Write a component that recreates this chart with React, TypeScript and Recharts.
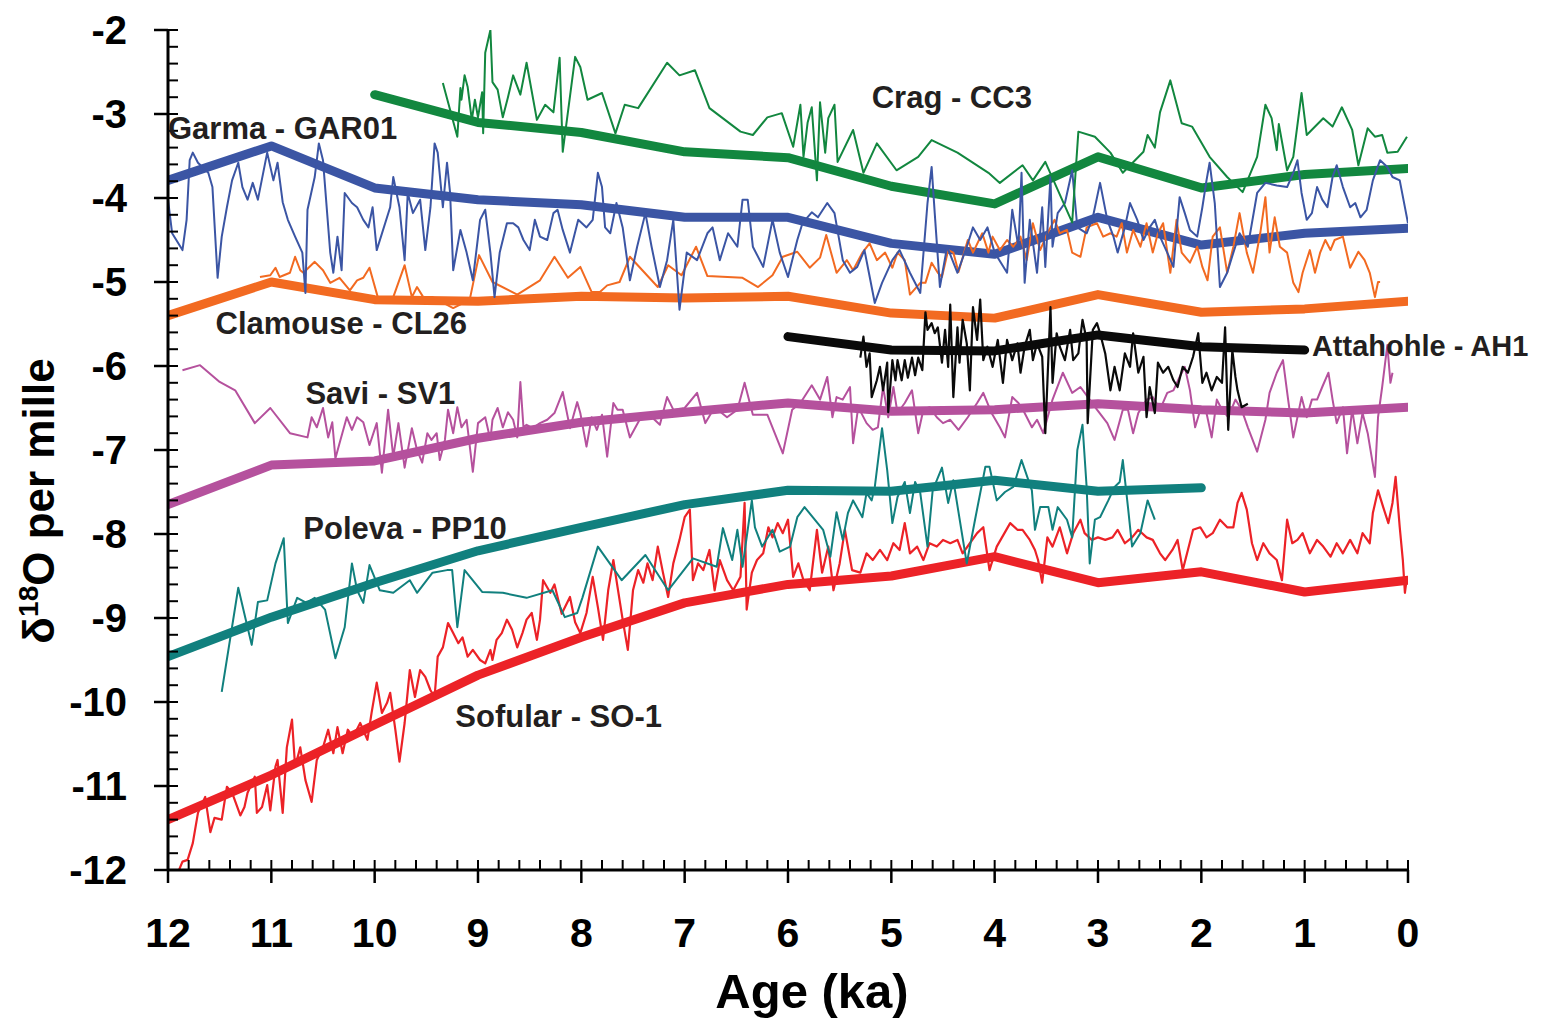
import React from 'react';
import { LineChart, Line, XAxis, YAxis, ReferenceDot } from 'recharts';

// [age ka, d18O]
const cragTrend = [[10, -2.77], [9, -3.1], [8, -3.22], [7, -3.45], [6, -3.52], [5, -3.86], [4, -4.07], [3, -3.51], [2, -3.88], [1, -3.72], [0, -3.65]];
const garmaTrend = [[12, -3.79], [11, -3.38], [10, -3.88], [9, -4.02], [8, -4.08], [7, -4.23], [6, -4.23], [5, -4.54], [4, -4.67], [3, -4.23], [2, -4.56], [1, -4.42], [0, -4.36]];
const clamouseTrend = [[12, -5.4], [11, -5.0], [10, -5.21], [9, -5.23], [8, -5.17], [7, -5.19], [6, -5.17], [5, -5.37], [4, -5.43], [3, -5.15], [2, -5.36], [1, -5.32], [0, -5.23]];
const attaTrend = [[6, -5.65], [5, -5.81], [4, -5.82], [3, -5.63], [2, -5.77], [1, -5.81]];
const saviTrend = [[12, -7.65], [11, -7.18], [10, -7.13], [9, -6.86], [8, -6.67], [7, -6.55], [6, -6.44], [5, -6.54], [4, -6.52], [3, -6.45], [2, -6.52], [1, -6.56], [0, -6.49]];
const polevaTrend = [[12, -9.46], [11, -8.99], [10, -8.58], [9, -8.2], [8, -7.92], [7, -7.65], [6, -7.48], [5, -7.49], [4, -7.36], [3, -7.49], [2, -7.45]];
const sofularTrend = [[12, -11.4], [11, -10.87], [10, -10.27], [9, -9.68], [8, -9.23], [7, -8.82], [6, -8.6], [5, -8.5], [4, -8.27], [3, -8.58], [2, -8.45], [1, -8.69], [0, -8.55]];

const crag = [[9.34, -2.63], [9.2, -3.27], [9.17, -2.69], [9.16, -2.83], [9.13, -2.54], [9.1, -2.68], [9.06, -3.07], [9.03, -2.83], [9.0, -3.04], [8.96, -2.74], [8.95, -3.23], [8.93, -2.27], [8.88, -2.0], [8.86, -2.62], [8.81, -2.71], [8.76, -3.04], [8.71, -2.8], [8.66, -2.54], [8.59, -2.77], [8.53, -2.39], [8.43, -3.07], [8.35, -2.89], [8.27, -2.98], [8.21, -2.33], [8.18, -3.45], [8.06, -2.32], [8.01, -2.44], [7.94, -2.83], [7.8, -2.75], [7.67, -3.23], [7.58, -2.89], [7.45, -2.93], [7.17, -2.39], [7.05, -2.54], [6.9, -2.48], [6.76, -2.93], [6.46, -3.21], [6.34, -3.25], [6.2, -3.04], [6.06, -2.99], [5.95, -3.39], [5.88, -2.89], [5.85, -3.51], [5.81, -3.1], [5.77, -2.92], [5.72, -3.79], [5.69, -2.86], [5.64, -3.46], [5.61, -3.05], [5.55, -2.89], [5.52, -3.57], [5.37, -3.19], [5.27, -3.7], [5.14, -3.35], [4.95, -3.67], [4.74, -3.51], [4.61, -3.31], [4.36, -3.46], [4.06, -3.7], [3.95, -3.82], [3.73, -3.61], [3.63, -3.79], [3.51, -3.57], [3.25, -4.29], [3.19, -3.21], [3.03, -3.27], [2.88, -3.46], [2.76, -3.7], [2.56, -3.45], [2.52, -3.25], [2.45, -3.4], [2.4, -2.98], [2.3, -2.6], [2.19, -3.11], [2.09, -3.15], [1.92, -3.51], [1.75, -3.75], [1.6, -3.93], [1.46, -3.51], [1.38, -2.89], [1.32, -3.05], [1.27, -3.43], [1.25, -3.12], [1.17, -3.67], [1.11, -3.51], [1.03, -2.75], [0.98, -3.25], [0.82, -3.05], [0.73, -3.15], [0.64, -2.92], [0.54, -3.19], [0.48, -3.61], [0.39, -3.17], [0.32, -3.27], [0.25, -3.25], [0.2, -3.46], [0.1, -3.45], [0.01, -3.27]];

const garma = [[12.0, -4.02], [11.96, -4.42], [11.86, -4.62], [11.82, -4.26], [11.79, -3.55], [11.76, -3.46], [11.71, -3.58], [11.61, -3.7], [11.57, -3.87], [11.52, -4.95], [11.48, -4.46], [11.43, -4.11], [11.38, -3.79], [11.32, -3.58], [11.28, -3.87], [11.23, -4.02], [11.18, -3.82], [11.13, -4.02], [11.04, -3.46], [10.98, -3.79], [10.94, -3.58], [10.89, -4.05], [10.84, -4.26], [10.77, -4.46], [10.7, -4.65], [10.67, -5.13], [10.65, -4.14], [10.58, -3.75], [10.54, -3.35], [10.5, -3.55], [10.43, -4.65], [10.4, -4.89], [10.36, -4.46], [10.32, -4.86], [10.29, -3.94], [10.22, -4.06], [10.17, -4.11], [10.11, -4.26], [10.06, -4.35], [10.02, -4.11], [9.98, -4.62], [9.85, -4.11], [9.82, -3.75], [9.76, -4.11], [9.71, -4.74], [9.68, -3.94], [9.63, -4.18], [9.56, -4.02], [9.51, -4.62], [9.46, -4.11], [9.42, -3.35], [9.39, -3.46], [9.34, -4.11], [9.3, -3.58], [9.27, -3.94], [9.24, -4.86], [9.17, -4.38], [9.11, -4.65], [9.05, -4.98], [8.98, -4.26], [8.93, -4.14], [8.88, -4.65], [8.84, -5.18], [8.79, -4.65], [8.72, -4.3], [8.66, -4.3], [8.61, -4.35], [8.56, -4.5], [8.5, -4.62], [8.45, -4.26], [8.4, -4.46], [8.33, -4.5], [8.27, -4.18], [8.23, -4.14], [8.18, -4.38], [8.11, -4.65], [8.03, -4.26], [7.95, -4.35], [7.89, -4.26], [7.84, -3.7], [7.8, -3.87], [7.77, -4.35], [7.72, -4.42], [7.66, -4.06], [7.6, -4.35], [7.53, -4.98], [7.46, -4.58], [7.38, -4.18], [7.32, -4.58], [7.24, -5.06], [7.17, -4.74], [7.11, -4.26], [7.05, -5.33], [6.98, -4.65], [6.88, -4.74], [6.78, -4.42], [6.73, -4.35], [6.66, -4.74], [6.58, -4.42], [6.49, -4.58], [6.44, -4.02], [6.39, -4.02], [6.34, -4.58], [6.24, -4.82], [6.15, -4.26], [6.08, -4.65], [6.0, -4.94], [5.91, -4.5], [5.86, -4.3], [5.77, -4.17], [5.71, -4.23], [5.62, -4.06], [5.55, -4.18], [5.47, -4.74], [5.4, -4.89], [5.33, -4.82], [5.26, -4.62], [5.16, -5.25], [5.09, -5.01], [4.99, -4.74], [4.92, -4.62], [4.82, -4.89], [4.72, -5.13], [4.65, -4.06], [4.61, -3.63], [4.58, -4.18], [4.53, -5.06], [4.46, -4.58], [4.36, -4.89], [4.27, -4.58], [4.21, -4.35], [4.14, -4.5], [4.07, -4.35], [4.0, -4.65], [3.88, -4.89], [3.83, -4.14], [3.77, -4.58], [3.74, -3.7], [3.71, -5.01], [3.66, -4.26], [3.59, -4.89], [3.54, -4.11], [3.51, -4.82], [3.46, -3.75], [3.44, -4.58], [3.39, -4.18], [3.32, -4.06], [3.25, -3.67], [3.2, -4.35], [3.11, -4.42], [3.05, -4.23], [2.98, -3.82], [2.91, -4.26], [2.85, -4.46], [2.81, -4.65], [2.74, -4.35], [2.69, -4.06], [2.62, -4.26], [2.56, -4.5], [2.5, -4.35], [2.45, -4.26], [2.4, -4.46], [2.33, -4.65], [2.27, -4.82], [2.21, -3.99], [2.16, -4.18], [2.11, -4.38], [2.04, -4.46], [1.99, -4.11], [1.95, -3.79], [1.92, -3.58], [1.87, -4.06], [1.82, -5.06], [1.75, -4.89], [1.69, -4.65], [1.63, -4.42], [1.55, -4.58], [1.46, -3.94], [1.38, -3.82], [1.27, -3.85], [1.17, -3.87], [1.11, -3.7], [1.07, -3.55], [1.03, -3.94], [0.98, -4.26], [0.93, -4.18], [0.88, -3.87], [0.83, -4.02], [0.78, -4.11], [0.73, -3.75], [0.69, -3.61], [0.63, -3.87], [0.56, -4.11], [0.51, -4.06], [0.46, -4.23], [0.4, -4.14], [0.34, -3.79], [0.27, -3.55], [0.2, -3.63], [0.15, -3.75], [0.08, -3.79], [0.0, -4.3]];

const clamouse = [[11.11, -4.94], [11.01, -4.92], [10.96, -4.83], [10.92, -4.94], [10.82, -4.89], [10.77, -4.7], [10.72, -4.86], [10.69, -4.89], [10.58, -4.76], [10.5, -4.86], [10.43, -5.01], [10.34, -4.95], [10.24, -5.1], [10.17, -4.98], [10.11, -4.95], [10.05, -4.83], [9.97, -5.18], [9.82, -5.18], [9.71, -4.8], [9.64, -5.18], [9.59, -5.06], [9.53, -5.18], [9.44, -5.18], [9.24, -5.31], [9.08, -5.21], [8.99, -4.68], [8.86, -5.0], [8.62, -5.15], [8.4, -4.98], [8.26, -4.7], [8.13, -4.95], [8.01, -4.82], [7.9, -5.12], [7.82, -5.12], [7.75, -5.04], [7.63, -5.0], [7.53, -4.7], [7.26, -5.06], [7.16, -4.8], [7.03, -4.92], [6.89, -4.58], [6.78, -4.93], [6.44, -4.95], [6.29, -5.06], [6.15, -4.92], [6.05, -4.7], [5.91, -4.64], [5.79, -4.83], [5.69, -4.71], [5.63, -4.44], [5.53, -4.89], [5.43, -4.74], [5.37, -4.86], [5.28, -4.65], [5.21, -4.54], [5.14, -4.74], [5.06, -4.65], [4.99, -4.83], [4.94, -4.65], [4.87, -4.74], [4.82, -5.15], [4.72, -5.01], [4.67, -5.01], [4.61, -4.77], [4.55, -4.89], [4.51, -4.94], [4.45, -4.62], [4.4, -4.65], [4.35, -4.88], [4.26, -4.5], [4.21, -4.65], [4.12, -4.42], [4.06, -4.65], [4.02, -4.46], [3.95, -4.62], [3.88, -4.5], [3.82, -4.58], [3.75, -4.46], [3.69, -4.74], [3.63, -4.3], [3.56, -4.62], [3.49, -4.42], [3.42, -4.26], [3.37, -4.42], [3.3, -4.38], [3.25, -4.65], [3.17, -4.7], [3.11, -4.35], [3.01, -4.3], [2.95, -4.46], [2.88, -4.42], [2.82, -4.46], [2.77, -4.3], [2.72, -4.65], [2.66, -4.38], [2.59, -4.58], [2.53, -4.3], [2.47, -4.65], [2.42, -4.42], [2.37, -4.3], [2.3, -4.89], [2.24, -4.26], [2.19, -4.65], [2.11, -4.77], [2.04, -4.58], [1.99, -4.82], [1.94, -4.98], [1.89, -4.46], [1.82, -4.35], [1.75, -4.89], [1.69, -4.58], [1.63, -4.18], [1.56, -4.65], [1.5, -4.89], [1.43, -4.42], [1.38, -3.99], [1.34, -4.65], [1.29, -4.23], [1.24, -4.58], [1.17, -4.65], [1.11, -5.01], [1.06, -5.12], [1.02, -4.89], [0.95, -4.62], [0.9, -4.89], [0.85, -4.65], [0.8, -4.5], [0.75, -4.62], [0.71, -4.5], [0.63, -4.46], [0.56, -4.83], [0.48, -4.64], [0.42, -4.74], [0.37, -4.89], [0.32, -5.18], [0.29, -5.0], [0.27, -5.0]];

const attahohle = [[5.3, -5.9], [5.27, -5.65], [5.24, -6.01], [5.21, -5.85], [5.19, -6.37], [5.14, -6.17], [5.11, -6.01], [5.08, -6.29], [5.04, -5.96], [5.03, -6.55], [4.99, -5.93], [4.96, -6.17], [4.94, -5.93], [4.9, -6.17], [4.87, -5.93], [4.84, -6.14], [4.8, -5.9], [4.77, -6.11], [4.74, -5.9], [4.7, -6.05], [4.67, -5.36], [4.65, -5.57], [4.61, -5.49], [4.58, -5.61], [4.55, -5.54], [4.51, -5.96], [4.48, -5.57], [4.45, -6.01], [4.43, -5.27], [4.4, -6.37], [4.36, -5.54], [4.34, -5.96], [4.31, -5.45], [4.27, -5.73], [4.24, -6.29], [4.21, -5.3], [4.17, -5.69], [4.14, -5.21], [4.11, -5.93], [4.07, -5.77], [4.02, -6.01], [3.97, -5.69], [3.92, -6.2], [3.88, -5.69], [3.83, -5.93], [3.78, -5.73], [3.75, -6.08], [3.71, -5.77], [3.66, -5.57], [3.63, -5.93], [3.59, -5.73], [3.54, -5.89], [3.51, -6.8], [3.46, -5.3], [3.44, -6.2], [3.4, -5.61], [3.37, -5.77], [3.32, -5.93], [3.27, -5.57], [3.24, -5.93], [3.19, -5.85], [3.15, -5.45], [3.11, -5.69], [3.1, -6.68], [3.05, -5.57], [3.01, -5.49], [2.98, -5.61], [2.93, -5.85], [2.88, -6.29], [2.84, -6.01], [2.79, -6.29], [2.74, -5.85], [2.69, -6.01], [2.66, -5.61], [2.61, -6.08], [2.56, -5.89], [2.53, -6.61], [2.5, -6.25], [2.45, -6.56], [2.42, -5.96], [2.37, -6.08], [2.32, -6.01], [2.27, -6.17], [2.23, -6.25], [2.18, -6.01], [2.13, -6.08], [2.08, -5.89], [2.03, -5.61], [1.99, -6.2], [1.95, -6.08], [1.9, -6.29], [1.85, -6.13], [1.8, -6.2], [1.77, -5.54], [1.74, -6.76], [1.7, -5.81], [1.67, -6.13], [1.65, -6.29], [1.61, -6.49], [1.55, -6.45]];

const savi = [[11.86, -6.05], [11.69, -5.99], [11.5, -6.19], [11.35, -6.29], [11.16, -6.68], [11.01, -6.5], [10.82, -6.8], [10.65, -6.85], [10.61, -6.61], [10.56, -6.73], [10.5, -6.5], [10.45, -6.85], [10.41, -6.67], [10.38, -7.1], [10.34, -6.92], [10.27, -6.61], [10.22, -6.76], [10.17, -6.61], [10.11, -6.67], [10.05, -6.94], [9.98, -6.68], [9.93, -7.27], [9.87, -6.52], [9.82, -7.08], [9.77, -6.68], [9.71, -7.21], [9.64, -6.74], [9.59, -7.0], [9.54, -7.15], [9.49, -6.8], [9.45, -6.88], [9.4, -6.8], [9.37, -7.12], [9.32, -6.88], [9.29, -6.52], [9.24, -6.8], [9.2, -6.49], [9.16, -6.73], [9.11, -6.64], [9.05, -7.26], [9.0, -6.68], [8.93, -6.61], [8.88, -6.88], [8.86, -6.64], [8.81, -6.5], [8.76, -6.73], [8.71, -6.55], [8.66, -6.64], [8.62, -6.85], [8.59, -6.19], [8.56, -6.73], [8.53, -6.7], [8.47, -6.74], [8.4, -6.68], [8.33, -6.64], [8.26, -6.56], [8.18, -6.31], [8.11, -6.74], [8.04, -6.43], [8.01, -6.56], [7.95, -6.96], [7.9, -6.61], [7.85, -6.76], [7.8, -6.58], [7.75, -7.08], [7.69, -6.44], [7.65, -6.52], [7.6, -6.52], [7.53, -6.85], [7.41, -6.58], [7.36, -6.56], [7.24, -6.7], [7.17, -6.37], [7.11, -6.52], [7.0, -6.5], [6.88, -6.32], [6.8, -6.68], [6.71, -6.49], [6.59, -6.61], [6.49, -6.52], [6.42, -6.2], [6.34, -6.58], [6.2, -6.58], [6.05, -7.04], [5.96, -6.52], [5.88, -6.44], [5.77, -6.23], [5.69, -6.4], [5.62, -6.13], [5.57, -6.61], [5.53, -6.37], [5.47, -6.4], [5.4, -6.25], [5.37, -6.92], [5.32, -6.49], [5.24, -6.68], [5.18, -6.76], [5.13, -6.73], [5.08, -6.25], [5.03, -6.61], [4.98, -6.25], [4.94, -6.56], [4.87, -6.44], [4.8, -6.29], [4.74, -6.8], [4.69, -6.52], [4.63, -6.49], [4.56, -6.61], [4.5, -6.68], [4.43, -6.64], [4.35, -6.76], [4.26, -6.61], [4.17, -6.44], [4.11, -6.32], [4.03, -6.56], [3.95, -6.73], [3.9, -6.85], [3.83, -6.37], [3.77, -6.44], [3.71, -6.56], [3.64, -6.73], [3.59, -6.64], [3.53, -6.8], [3.44, -6.4], [3.34, -6.08], [3.25, -6.32], [3.17, -6.25], [3.08, -6.4], [3.01, -6.52], [2.91, -6.68], [2.84, -6.88], [2.76, -6.52], [2.71, -6.52], [2.66, -6.8], [2.61, -6.56], [2.53, -6.4], [2.47, -6.37], [2.4, -6.52], [2.33, -6.32], [2.27, -6.29], [2.21, -6.13], [2.16, -6.01], [2.11, -6.29], [2.06, -6.73], [2.01, -6.52], [1.95, -6.56], [1.9, -6.85], [1.85, -6.4], [1.8, -6.52], [1.74, -6.61], [1.67, -6.4], [1.61, -6.52], [1.55, -6.73], [1.46, -7.02], [1.38, -6.64], [1.34, -6.32], [1.27, -6.08], [1.21, -5.93], [1.16, -6.4], [1.11, -6.85], [1.03, -6.37], [0.98, -6.61], [0.93, -6.4], [0.88, -6.4], [0.83, -6.25], [0.77, -6.08], [0.73, -6.4], [0.69, -6.68], [0.63, -6.49], [0.59, -7.04], [0.54, -6.52], [0.49, -6.92], [0.44, -6.56], [0.39, -6.8], [0.32, -7.32], [0.29, -6.61], [0.25, -6.25], [0.2, -5.75], [0.17, -6.2], [0.15, -6.08]];

const poleva = [[11.48, -9.88], [11.32, -8.64], [11.24, -9.06], [11.19, -9.32], [11.13, -8.81], [11.04, -8.79], [10.96, -8.35], [10.88, -8.05], [10.84, -9.06], [10.75, -8.76], [10.66, -8.82], [10.58, -8.76], [10.48, -8.9], [10.38, -9.48], [10.29, -9.11], [10.22, -8.35], [10.17, -8.67], [10.11, -8.82], [10.05, -8.37], [9.95, -8.67], [9.82, -8.7], [9.66, -8.55], [9.59, -8.7], [9.44, -8.46], [9.3, -8.43], [9.25, -8.43], [9.2, -9.11], [9.13, -8.43], [8.96, -8.69], [8.76, -8.7], [8.53, -8.76], [8.28, -8.67], [8.16, -8.99], [8.04, -8.94], [7.99, -8.76], [7.84, -8.15], [7.61, -8.55], [7.38, -8.25], [7.16, -8.67], [6.92, -8.29], [6.69, -8.39], [6.63, -7.93], [6.54, -8.31], [6.49, -7.95], [6.44, -8.39], [6.35, -7.6], [6.32, -7.92], [6.25, -8.15], [6.15, -7.95], [6.08, -8.21], [5.98, -8.15], [5.91, -7.8], [5.84, -7.68], [5.66, -7.95], [5.59, -8.27], [5.53, -7.74], [5.47, -8.07], [5.42, -7.75], [5.37, -7.6], [5.28, -7.8], [5.24, -7.51], [5.19, -7.6], [5.16, -7.44], [5.09, -6.74], [5.04, -7.24], [4.99, -7.87], [4.94, -7.56], [4.87, -7.38], [4.82, -7.75], [4.77, -7.38], [4.72, -7.51], [4.65, -8.15], [4.6, -7.48], [4.51, -7.21], [4.45, -7.63], [4.4, -7.36], [4.27, -8.35], [4.19, -7.83], [4.09, -7.2], [4.05, -7.2], [3.98, -7.6], [3.9, -7.5], [3.82, -7.44], [3.74, -7.12], [3.64, -7.48], [3.61, -7.95], [3.56, -7.68], [3.48, -7.68], [3.44, -7.95], [3.39, -7.68], [3.3, -7.83], [3.25, -8.04], [3.2, -7.0], [3.15, -6.7], [3.11, -7.44], [3.08, -8.35], [3.03, -7.83], [2.98, -7.8], [2.9, -7.6], [2.84, -7.44], [2.79, -7.38], [2.76, -7.12], [2.71, -7.68], [2.67, -8.15], [2.59, -7.99], [2.52, -7.6], [2.45, -7.83]];

const sofular = [[11.9, -12.02], [11.86, -11.9], [11.81, -11.88], [11.76, -11.68], [11.71, -11.32], [11.64, -11.13], [11.59, -11.55], [11.55, -11.38], [11.48, -11.4], [11.43, -11.01], [11.38, -11.08], [11.3, -11.35], [11.26, -11.25], [11.23, -11.08], [11.16, -10.89], [11.14, -11.32], [11.09, -11.25], [11.04, -10.99], [11.01, -11.29], [10.96, -10.77], [10.94, -10.69], [10.89, -11.32], [10.85, -10.54], [10.8, -10.21], [10.77, -10.77], [10.72, -10.54], [10.67, -10.93], [10.61, -11.19], [10.56, -10.69], [10.5, -10.54], [10.45, -10.33], [10.4, -10.61], [10.36, -10.3], [10.31, -10.61], [10.26, -10.33], [10.21, -10.42], [10.14, -10.25], [10.07, -10.45], [10.03, -10.13], [9.98, -9.77], [9.93, -10.13], [9.88, -10.01], [9.85, -9.89], [9.8, -10.33], [9.76, -10.71], [9.71, -10.25], [9.66, -9.62], [9.61, -9.94], [9.56, -9.62], [9.51, -9.7], [9.46, -9.86], [9.42, -9.94], [9.39, -9.46], [9.34, -9.35], [9.29, -9.06], [9.24, -9.18], [9.19, -9.3], [9.15, -9.23], [9.1, -9.46], [9.05, -9.38], [8.98, -9.5], [8.93, -9.54], [8.88, -9.38], [8.86, -9.5], [8.82, -9.26], [8.77, -9.18], [8.72, -9.02], [8.67, -9.14], [8.62, -9.35], [8.57, -9.18], [8.53, -9.02], [8.48, -8.94], [8.43, -9.26], [8.4, -9.02], [8.37, -8.55], [8.3, -8.7], [8.26, -8.6], [8.19, -8.95], [8.11, -8.75], [8.06, -9.05], [8.01, -9.18], [7.95, -8.94], [7.89, -8.51], [7.84, -8.87], [7.79, -9.26], [7.74, -8.67], [7.69, -8.31], [7.65, -8.63], [7.6, -9.02], [7.55, -9.38], [7.5, -8.67], [7.45, -8.43], [7.4, -8.58], [7.36, -8.35], [7.31, -8.55], [7.26, -8.15], [7.21, -8.46], [7.16, -8.75], [7.11, -8.35], [7.05, -8.07], [7.0, -7.8], [6.95, -7.71], [6.92, -8.55], [6.87, -8.35], [6.82, -8.43], [6.76, -8.19], [6.71, -8.67], [6.66, -8.31], [6.59, -8.55], [6.53, -8.67], [6.46, -8.51], [6.42, -7.63], [6.4, -8.9], [6.35, -8.46], [6.3, -8.31], [6.24, -8.23], [6.19, -7.92], [6.15, -8.04], [6.1, -7.87], [6.05, -7.99], [6.0, -7.83], [5.95, -8.51], [5.9, -8.35], [5.85, -8.55], [5.79, -8.67], [5.72, -7.95], [5.67, -8.46], [5.61, -8.15], [5.56, -8.67], [5.5, -8.35], [5.45, -7.95], [5.38, -8.43], [5.3, -8.46], [5.24, -8.23], [5.18, -8.31], [5.11, -8.19], [5.04, -8.31], [4.98, -8.11], [4.92, -8.19], [4.87, -7.87], [4.82, -8.23], [4.75, -8.15], [4.69, -8.31], [4.63, -8.11], [4.56, -8.15], [4.5, -8.07], [4.43, -8.11], [4.36, -8.07], [4.31, -8.23], [4.24, -8.11], [4.17, -7.99], [4.11, -7.92], [4.05, -8.43], [3.98, -8.15], [3.85, -7.87], [3.78, -7.95], [3.73, -7.95], [3.66, -8.07], [3.61, -8.19], [3.58, -8.31], [3.54, -8.58], [3.49, -8.04], [3.44, -8.15], [3.37, -7.92], [3.3, -8.23], [3.24, -7.99], [3.17, -7.83], [3.13, -7.99], [3.06, -8.07], [3.0, -8.04], [2.93, -8.07], [2.86, -8.04], [2.81, -7.95], [2.74, -8.11], [2.67, -8.04], [2.61, -7.95], [2.53, -8.04], [2.47, -8.07], [2.4, -8.23], [2.35, -8.31], [2.28, -8.19], [2.23, -8.07], [2.18, -8.43], [2.13, -8.19], [2.08, -7.95], [2.01, -7.92], [1.95, -8.04], [1.89, -7.99], [1.82, -7.83], [1.75, -7.92], [1.69, -7.92], [1.65, -7.63], [1.61, -7.51], [1.56, -7.71], [1.51, -8.11], [1.46, -8.31], [1.4, -8.11], [1.34, -8.23], [1.27, -8.31], [1.22, -8.55], [1.17, -7.83], [1.12, -8.11], [1.07, -8.07], [1.02, -7.99], [0.95, -8.23], [0.88, -8.07], [0.82, -8.15], [0.75, -8.27], [0.69, -8.11], [0.63, -8.23], [0.56, -8.07], [0.49, -8.23], [0.44, -7.99], [0.37, -8.11], [0.34, -7.75], [0.29, -7.48], [0.24, -7.68], [0.19, -7.87], [0.15, -7.63], [0.12, -7.32], [0.08, -7.92], [0.05, -8.31], [0.03, -8.7], [0.01, -8.51]];

const xTicks = Array.from({ length: 61 }, (_, i) => Math.round(i * 2) / 10);
const yTicks = Array.from({ length: 51 }, (_, i) => Math.round(-120 + i * 2) / 10);

const FONT = '"Liberation Sans", Arial, Helvetica, sans-serif';
const TEXT = '#231f20';

const pts = (arr: number[][]) => arr.map(([age, v]) => ({ age, v }));
const isMajor = (v: number) => Math.abs(v - Math.round(v)) < 1e-6;

const XTick = (props: any) => {
  const { x, y, payload } = props;
  if (!isMajor(payload.value)) return <g />;
  return (
    <g>
      <line x1={x} x2={x} y1={y} y2={y + 13} stroke="#000" strokeWidth={2.5} />
      <text x={x} y={y + 77} textAnchor="middle" fontSize={41} fontWeight="bold" fontFamily={FONT} fill="#000">
        {Math.round(payload.value)}
      </text>
    </g>
  );
};

const YTick = (props: any) => {
  const { x, y, payload } = props;
  if (!isMajor(payload.value)) return <g />;
  return (
    <g>
      <line x1={x - 14} x2={x} y1={y} y2={y} stroke="#000" strokeWidth={2.5} />
      <text x={x - 41} y={y + 14} textAnchor="end" fontSize={40} fontWeight="bold" fontFamily={FONT} fill="#000">
        {Math.round(payload.value)}
      </text>
    </g>
  );
};

const series = [
  { name: 'sofular', thin: sofular, trend: sofularTrend, color: '#ec2227', w: 2.2 },
  { name: 'poleva', thin: poleva, trend: polevaTrend, color: '#11807e', w: 2 },
  { name: 'savi', thin: savi, trend: saviTrend, color: '#b5519d', w: 2 },
  { name: 'atta', thin: attahohle, trend: attaTrend, color: '#0a0a0a', w: 2.2 },
  { name: 'clamouse', thin: clamouse, trend: clamouseTrend, color: '#f26a21', w: 2 },
  { name: 'garma', thin: garma, trend: garmaTrend, color: '#3b55a4', w: 2 },
  { name: 'crag', thin: crag, trend: cragTrend, color: '#12873f', w: 2 },
];

const seriesLabels = [
  { text: 'Crag - CC3', age: 5.19, v: -2.8, size: 31 },
  { text: 'Garma - GAR01', age: 12, v: -3.17, size: 31 },
  { text: 'Clamouse - CL26', age: 11.54, v: -5.49, size: 31 },
  { text: 'Attahohle - AH1', age: 0.93, v: -5.76, size: 29 },
  { text: 'Savi - SV1', age: 10.67, v: -6.32, size: 31 },
  { text: 'Poleva - PP10', age: 10.69, v: -7.93, size: 31 },
  { text: 'Sofular - SO-1', age: 9.22, v: -10.17, size: 31 },
];

export default function App() {
  return (
    <div style={{ position: 'absolute', left: 0, top: 0 }}>
      <LineChart width={1541} height={1023} margin={{ top: 30, right: 133, left: 0, bottom: 0 }}>
        <XAxis
          type="number"
          dataKey="age"
          domain={[0, 12]}
          reversed
          allowDataOverflow
          ticks={xTicks}
          interval={0}
          height={153}
          tickSize={-10}
          tickMargin={10}
          tick={<XTick />}
          axisLine={{ stroke: '#000', strokeWidth: 3 }}
          tickLine={{ stroke: '#000', strokeWidth: 2 }}
          label={{
            content: (p: any) => {
              const vb = p.viewBox || { x: 168, width: 1240 };
              return (
                <text x={vb.x + vb.width / 2 + 24} y={1008} textAnchor="middle" fontSize={49} fontWeight="bold" fontFamily={FONT} fill="#000">
                  Age (ka)
                </text>
              );
            },
          }}
        />
        <YAxis
          type="number"
          domain={[-12, -2]}
          allowDataOverflow
          ticks={yTicks}
          interval={0}
          width={168}
          tickSize={-10}
          tickMargin={10}
          tick={<YTick />}
          axisLine={{ stroke: '#000', strokeWidth: 3 }}
          tickLine={{ stroke: '#000', strokeWidth: 2 }}
          label={{
            content: () => (
              <text transform="translate(54,501) rotate(-90)" textAnchor="middle" fontSize={44} fontWeight="bold" fontFamily={FONT} fill="#000">
                δ<tspan fontSize={28} dy={-16}>18</tspan>
                <tspan dy={16}>O per mille</tspan>
              </text>
            ),
          }}
        />
        {series.map((s) => (
          <Line
            key={s.name + '-trend'}
            data={pts(s.trend)}
            dataKey="v"
            type="linear"
            stroke={s.color}
            strokeWidth={9}
            strokeLinecap="round"
            strokeLinejoin="round"
            dot={false}
            activeDot={false}
            isAnimationActive={false}
          />
        ))}
        {series.map((s) => (
          <Line
            key={s.name + '-thin'}
            data={pts(s.thin)}
            dataKey="v"
            type="linear"
            stroke={s.color}
            strokeWidth={s.w}
            strokeLinejoin="round"
            dot={false}
            activeDot={false}
            isAnimationActive={false}
          />
        ))}
        {seriesLabels.map((l) => (
          <ReferenceDot
            key={l.text}
            x={l.age}
            y={l.v}
            r={0}
            fill="none"
            stroke="none"
            ifOverflow="visible"
            label={{ value: l.text, position: 'right', offset: 0, fontSize: l.size, fontWeight: 'bold', fontFamily: FONT, fill: TEXT }}
          />
        ))}
      </LineChart>
    </div>
  );
}
